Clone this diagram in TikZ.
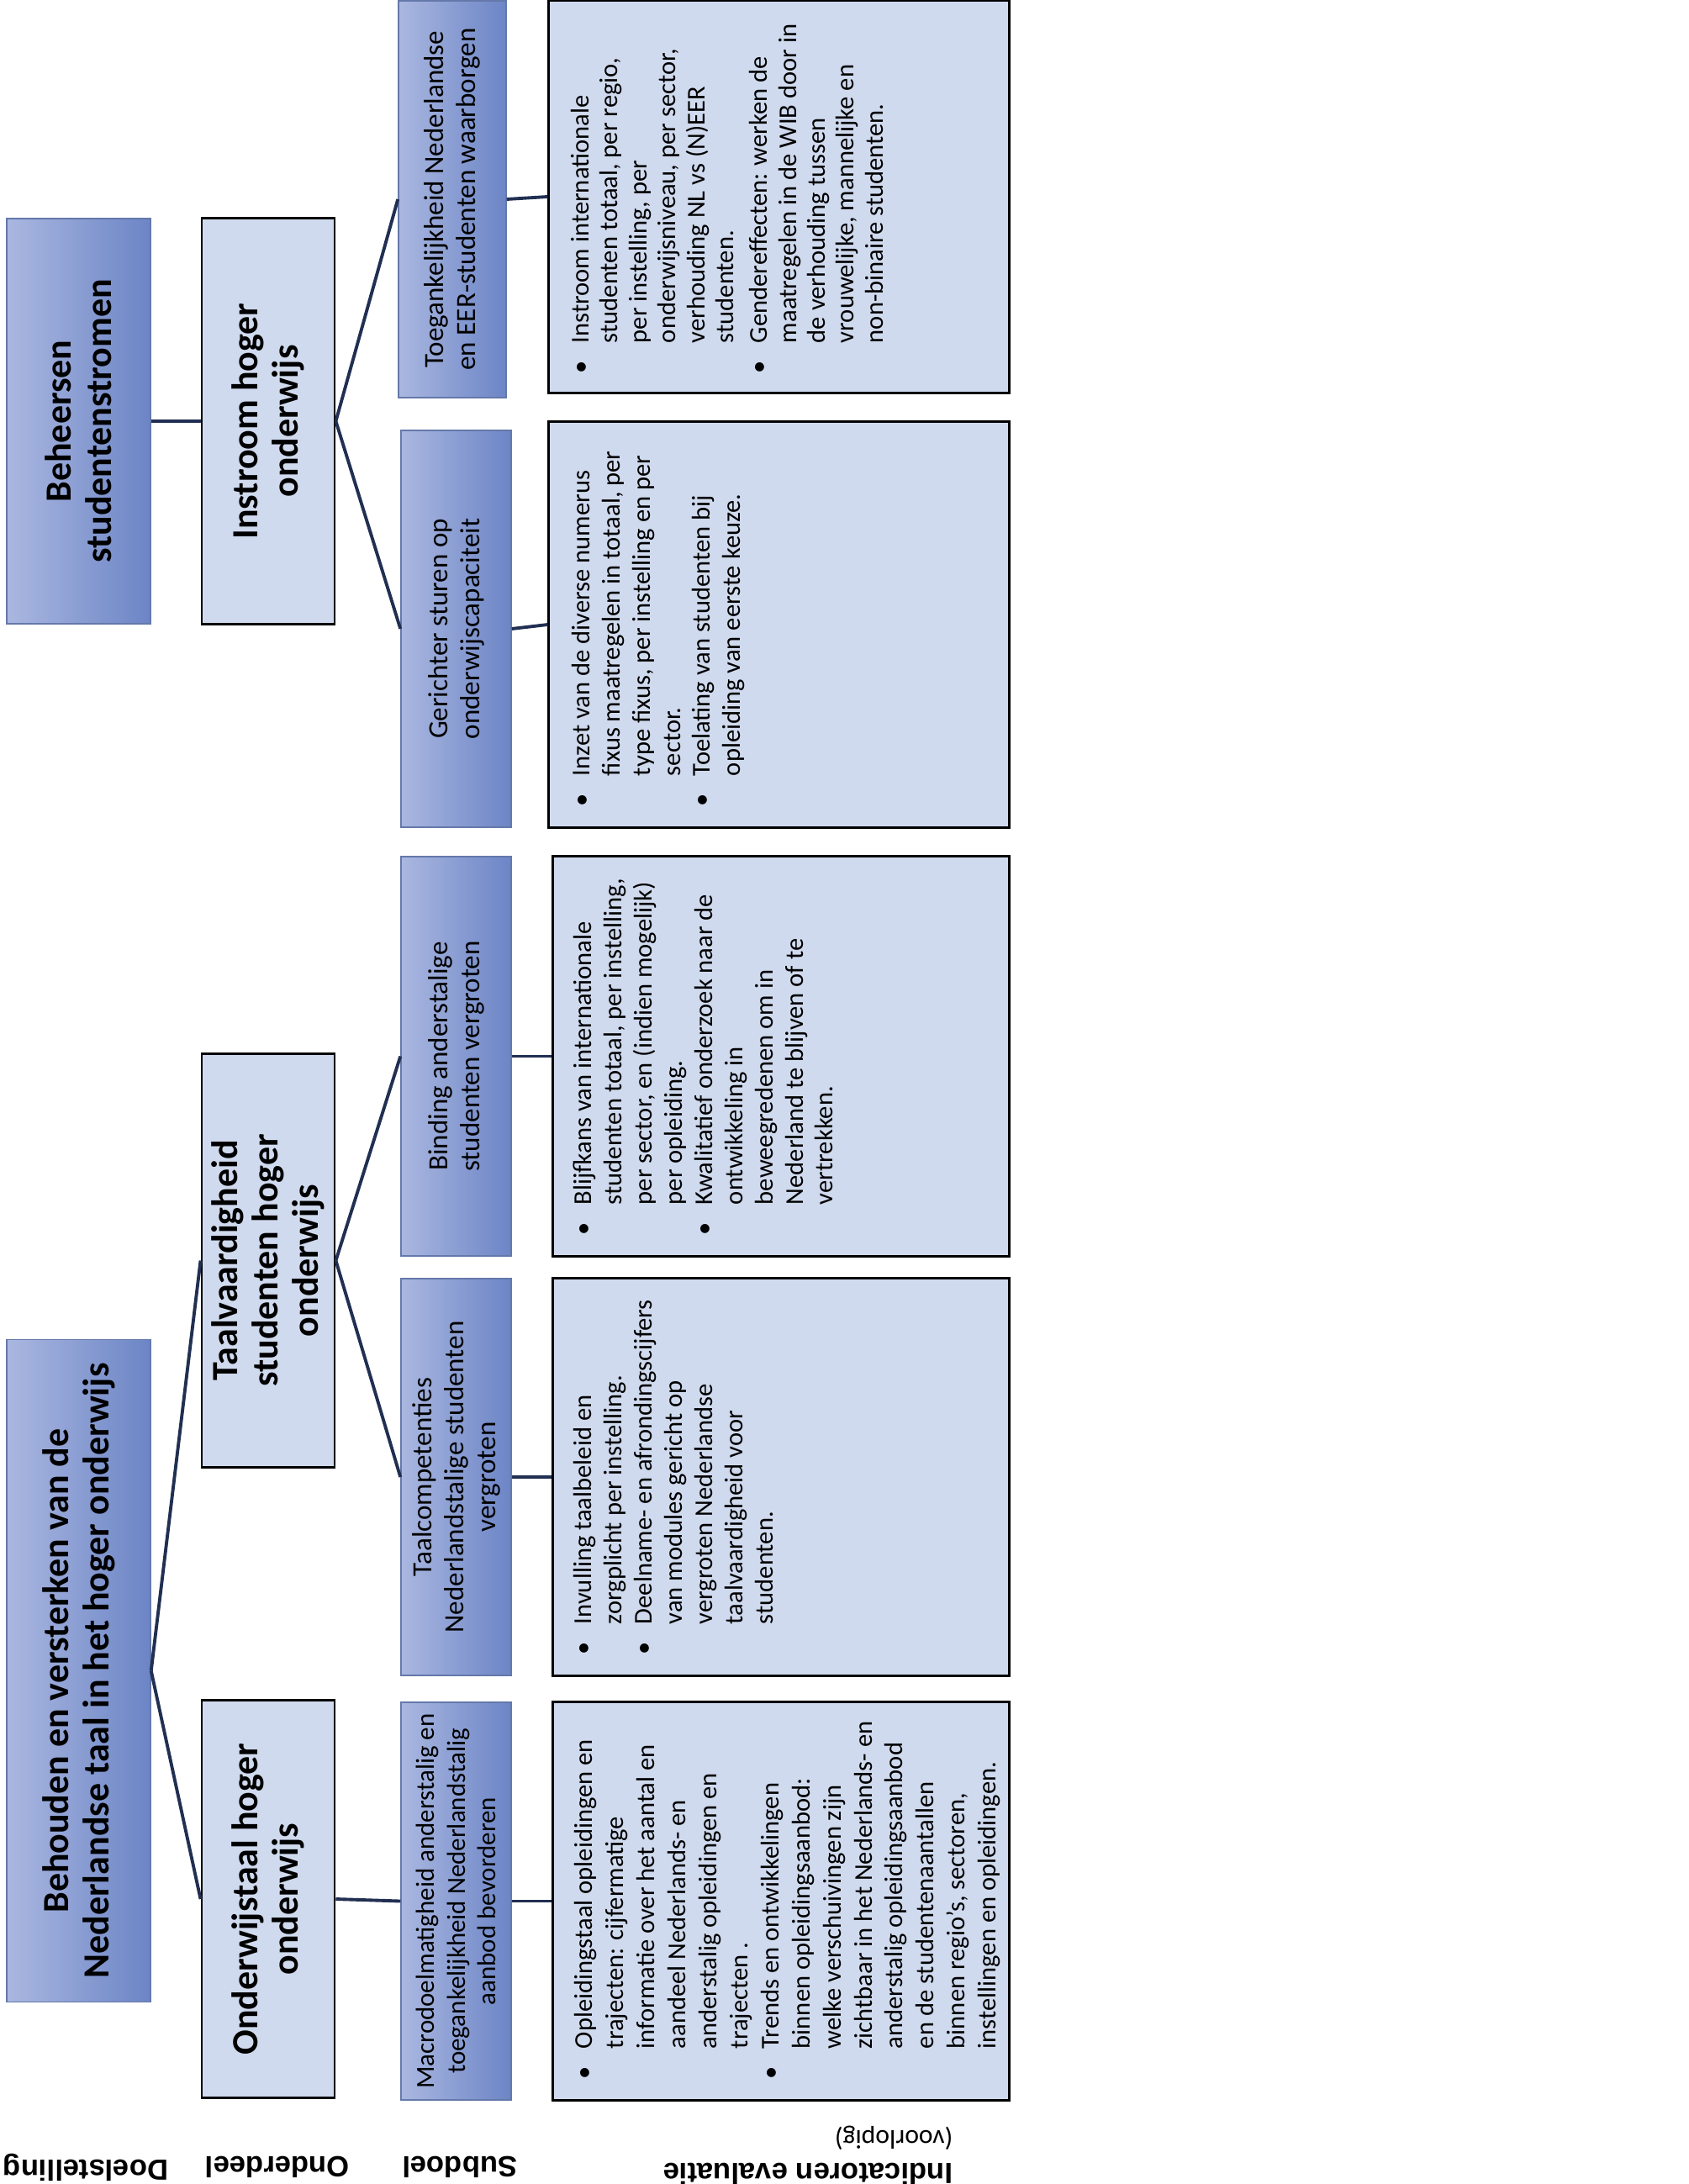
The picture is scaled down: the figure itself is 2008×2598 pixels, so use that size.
\documentclass[tikz,border=0pt]{standalone}
\usepackage{fontspec}
\setmainfont{Carlito}
\newfontfamily\lblfont{Liberation Sans}
\definecolor{boxLight}{RGB}{208,218,238}
\definecolor{shadeLight}{RGB}{170,183,224}
\definecolor{shadeDark}{RGB}{108,133,198}
\definecolor{edgeBlue}{RGB}{100,120,170}
\definecolor{linkNavy}{RGB}{33,47,82}
\newcommand{\bul}[1]{\noindent\makebox[0.36cm][l]{\textbullet}\begin{tabular}[t]{@{}l@{}}#1\end{tabular}\par}
\newcommand{\indtxt}[3][10.2]{\begin{minipage}[c][5.0cm][t]{#2}\fontsize{8.7}{#1}\selectfont\lineskip=0pt #3\end{minipage}}

\begin{document}
\begin{tikzpicture}[x=0.01cm, y=-0.01cm,
  doelStyle/.style={rectangle, rotate=90, draw=edgeBlue, line width=0.4pt, left color=shadeLight, right color=shadeDark, align=center, inner sep=2pt, minimum height=1.71cm, font=\bfseries\fontsize{12.5}{13.7}\selectfont},
  ondStyle/.style={rectangle, rotate=90, draw=black, line width=0.8pt, fill=boxLight, align=center, inner sep=2pt, minimum height=1.58cm, font=\bfseries\fontsize{12.5}{13.7}\selectfont},
  subStyle/.style={rectangle, rotate=90, draw=edgeBlue, line width=0.4pt, left color=shadeLight, right color=shadeDark, align=center, inner sep=2pt, minimum height=1.31cm, font=\fontsize{9.4}{10.8}\selectfont},
  indStyle/.style={rectangle, rotate=90, draw=black, line width=0.8pt, fill=boxLight, inner sep=0pt, minimum height=5.42cm},
  linkStyle/.style={draw=linkNavy, line width=1.1pt},
  lblStyle/.style={rotate=180, font=\lblfont\bfseries\fontsize{9.85}{11}\selectfont}]
  \useasboundingbox (0,0) rectangle (2008,2598);

  \node[doelStyle, minimum width=7.87cm] (doelA) at (93.5,1987.5) {Behouden en versterken van de\\Nederlandse taal in het hoger onderwijs};
  \node[doelStyle, minimum width=4.82cm] (doelB) at (93.5, 501)   {Beheersen\\studentenstromen};

  \node[ondStyle, minimum width=4.72cm] (ondA) at (319,2259)   {Onderwijstaal hoger\\onderwijs};
  \node[ondStyle, minimum width=4.91cm] (ondB) at (319,1499.5) {Taalvaardigheid\\studenten hoger\\onderwijs};
  \node[ondStyle, minimum width=4.82cm] (ondC) at (319, 501)   {Instroom hoger\\onderwijs};

  \node[subStyle, minimum width=4.73cm, font=\fontsize{8.8}{10.4}\selectfont] (subA) at (542.5,2261.5) {Macrodoelmatigheid anderstalig en\\toegankelijkheid Nederlandstalig\\aanbod bevorderen};
  \node[subStyle, minimum width=4.72cm] (subB) at (542.5,1757)   {Taalcompetenties\\Nederlandstalige studenten\\vergroten};
  \node[subStyle, minimum width=4.75cm] (subC) at (542.5,1256.5) {Binding anderstalige\\studenten vergroten};
  \node[subStyle, minimum width=4.72cm] (subD) at (542.5, 748)   {Gerichter sturen op\\onderwijscapaciteit};
  \node[subStyle, minimum width=4.72cm, minimum height=1.28cm] (subE) at (538, 237) {Toegankelijkheid Nederlandse\\en EER-studenten waarborgen};

  \node[indStyle, minimum width=4.73cm] (indA) at (929,2261.5) {\indtxt[10.5]{4.23cm}{%
    \bul{Opleidingstaal opleidingen en\\trajecten: cijfermatige\\informatie over het aantal en\\aandeel Nederlands- en\\anderstalig opleidingen en\\trajecten .}
    \bul{Trends en ontwikkelingen\\binnen opleidingsaanbod:\\welke verschuivingen zijn\\zichtbaar in het Nederlands- en\\anderstalig opleidingsaanbod\\en de studentenaantallen\\binnen regio’s, sectoren,\\instellingen en opleidingen.}}};
  \node[indStyle, minimum width=4.72cm] (indB) at (929,1757) {\indtxt{4.22cm}{%
    \bul{Invulling taalbeleid en\\zorgplicht per instelling.}
    \bul{Deelname- en afrondingscijfers\\van modules gericht op\\vergroten Nederlandse\\taalvaardigheid voor\\studenten.}}};
  \node[indStyle, minimum width=4.75cm] (indC) at (929,1256.5) {\indtxt{4.25cm}{%
    \bul{Blijfkans van internationale\\studenten totaal, per instelling,\\per sector, en (indien mogelijk)\\per opleiding.}
    \bul{Kwalitatief onderzoek naar de\\ontwikkeling in\\beweegredenen om in\\Nederland te blijven of te\\vertrekken.}}};
  \node[indStyle, minimum width=4.82cm, minimum height=5.47cm] (indD) at (926.5,743) {\indtxt{4.32cm}{%
    \bul{Inzet van de diverse numerus\\fixus maatregelen in totaal, per\\type fixus, per instelling en per\\sector.}
    \bul{Toelating van studenten bij\\opleiding van eerste keuze.}}};
  \node[indStyle, minimum width=4.66cm, minimum height=5.47cm] (indE) at (926.5,234) {\indtxt[9.8]{4.2cm}{%
    \bul{Instroom internationale\\studenten totaal, per regio,\\per instelling, per\\onderwijsniveau, per sector,\\verhouding NL vs (N)EER\\studenten.}
    \vspace{1.5pt}
    \bul{Gendereffecten: werken de\\maatregelen in de WIB door in\\de verhouding tussen\\vrouwelijke, mannelijke en\\non-binaire studenten.}}};

  \draw[linkStyle] (doelA.south) -- (ondA.north);
  \draw[linkStyle] (doelA.south) -- (ondB.north);
  \draw[linkStyle] (doelB.south) -- (ondC.north);

  \draw[linkStyle] (ondA.south) -- (subA.north);
  \draw[linkStyle] (ondB.south) -- (subB.north);
  \draw[linkStyle] (ondB.south) -- (subC.north);
  \draw[linkStyle] (ondC.south) -- (subD.north);
  \draw[linkStyle] (ondC.south) -- (subE.north);

  \draw[linkStyle] (subA.south) -- (indA.north);
  \draw[linkStyle] (subB.south) -- (indB.north);
  \draw[linkStyle] (subC.south) -- (indC.north);
  \draw[linkStyle] (subD.south) -- (indD.north);
  \draw[linkStyle] (subE.south) -- (indE.north);

  \node[lblStyle] (lblDoel) at (102,2578) {Doelstelling};
  \node[lblStyle] (lblOnd)  at (330,2578) {Onderdeel};
  \node[lblStyle] (lblSub)  at (547,2578) {Subdoel};
  \node[lblStyle, align=left] (lblInd) at (961,2564) {Indicatoren evaluatie\\{\normalfont\fontsize{9}{10}\selectfont(voorlopig)}};
\end{tikzpicture}
\end{document}
